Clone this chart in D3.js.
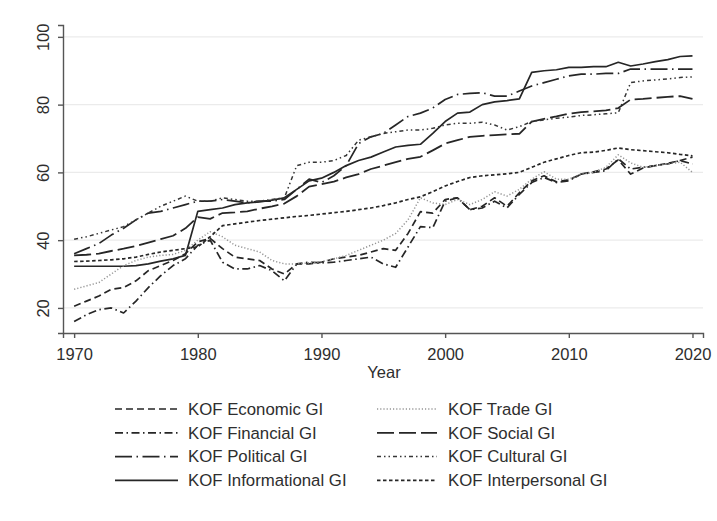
<!DOCTYPE html>
<html lang="en">
<head>
  <meta charset="UTF-8">
  <title>KOF Globalisation Indices</title>
  <script src="https://d3js.org/d3.v7.min.js"></script>
  <style>
    body, html { margin: 0; background: #fff; }
    svg { display: block; font-family: "Liberation Sans", Arial, sans-serif; }
  </style>
</head>
<body>
  <svg width="717" height="521"></svg>
  <script>
    // years on the x axis
    const years = d3.range(1970, 2021);
    const xTicks = [1970, 1980, 1990, 2000, 2010, 2020];
    const yTicks = [20, 40, 60, 80, 100];

    // values, one per year 1970..2020
    const economic = [20.5, 22, 23.5, 25.5, 26, 28, 31, 32.5, 34, 36, 39.5, 40.5, 37.5, 35, 34.5, 34, 31.5, 30, 33, 33,
      33.5, 34.5, 35, 35.5, 36.5, 37.5, 37, 42, 48.4, 48, 52, 52.5, 49, 50, 52.5, 50, 54, 57.5, 59, 57.2,
      57.8, 59.5, 60.2, 61, 63.7, 59.5, 61.3, 62, 62.7, 63.5, 64.5];
    const financial = [16, 18, 19.5, 20, 18.5, 22, 26, 29.5, 32.5, 34.5, 38.5, 40, 33.5, 31.5, 31.5, 32.5, 31, 28, 33, 33.5,
      33.3, 33.5, 34, 34.5, 35, 33, 32, 38, 44, 43.7, 51.5, 52.5, 49, 49.5, 51.5, 49.5, 53.5, 57, 58.5, 57,
      57.5, 59.5, 60, 60.5, 64, 61, 61.5, 62, 62.5, 63.5, 62.5];
    const political = [36, 37.5, 39, 41.5, 43.5, 46, 48, 48.5, 49.5, 50.5, 51.5, 51.5, 52, 51.5, 51, 51.5, 51.5, 52, 55, 58,
      57, 59, 62, 68.5, 70.5, 71.5, 74, 76.5, 77.5, 79, 81.5, 83, 83.3, 83.5, 82.5, 82.5, 84, 85.5, 86.5, 87.5,
      88.5, 89, 89, 89.2, 89.2, 90.5, 90.5, 90.5, 90.5, 90.5, 90.5];
    const informational = [32.3, 32.3, 32.3, 32.3, 32.3, 32.5, 33, 33.8, 34.5, 35.5, 48.5, 49, 49.5, 50.5, 51, 51.3, 51.8, 52.5, 55, 57.5,
      58.3, 60, 62, 63.5, 64.5, 66, 67.5, 68, 68.3, 71.5, 75, 77.5, 77.8, 80, 80.8, 81.2, 81.7, 89.5, 90, 90.3,
      91, 91, 91.2, 91.2, 92.5, 91.4, 92, 92.7, 93.3, 94.2, 94.4];
    const trade = [25.5, 26.5, 27.5, 30, 32.5, 34, 35, 35.5, 35.8, 37, 40, 42.5, 41, 38.5, 37.5, 36.5, 34, 33, 33, 33.3,
      33.6, 34.5, 35.5, 37, 38.5, 40, 42, 46, 52.5, 51, 50.5, 52, 50.5, 52, 54.3, 53, 55, 58, 60.2, 58,
      58, 59.5, 60, 61.5, 65.2, 62.8, 61.5, 62, 62.5, 63, 60];
    const social = [35.5, 35.7, 36, 36.8, 37.5, 38.3, 39.3, 40.3, 41.3, 43.5, 46.8, 46.3, 48, 48.2, 48.5, 49.3, 50, 50.8, 53, 55.8,
      56.5, 57.3, 58.5, 59.5, 61, 62, 63, 64, 64.6, 66.5, 68.5, 69.5, 70.5, 70.8, 71, 71.2, 71.4, 75, 75.8, 76.5,
      77.3, 77.8, 78, 78.3, 79, 81.5, 81.7, 82, 82.3, 82.5, 81.7];
    const cultural = [40.3, 41, 42, 43, 44, 46, 48, 50, 51.5, 53, 51.5, 51.5, 52.5, 52, 51.5, 51.5, 52, 52.5, 62, 63,
      63, 63.5, 65, 69.5, 70.5, 71.5, 72, 72.5, 72.5, 73, 74, 74.5, 74.5, 74.8, 74, 72.5, 73.5, 75, 75.5, 76,
      76.3, 76.8, 77, 77.3, 77.6, 86.5, 87, 87.3, 87.6, 88, 88.2];
    const interpersonal = [33.7, 33.8, 34, 34.2, 34.5, 35, 35.8, 36.5, 37, 37.5, 38, 41, 44.3, 44.8, 45.3, 45.8, 46.2, 46.6, 47, 47.3,
      47.7, 48.1, 48.5, 49, 49.5, 50.2, 51, 52, 52.8, 54.3, 56, 57.3, 58.5, 59, 59.3, 59.6, 60, 61.5, 63, 64,
      65, 65.8, 66, 66.5, 67.2, 66.7, 66.4, 66.1, 65.8, 65.3, 64.9];

    const series = [
      { name: "KOF Economic GI", values: economic, dash: "7,4", color: "#262626", w: 1.7 },
      { name: "KOF Financial GI", values: financial, dash: "8,3.5,1.5,3.5", color: "#262626", w: 1.7 },
      { name: "KOF Political GI", values: political, dash: "17,4.5,1.5,4.5", color: "#262626", w: 1.7 },
      { name: "KOF Informational GI", values: informational, dash: null, color: "#262626", w: 1.7 },
      { name: "KOF Trade GI", values: trade, dash: "1.2,2", color: "#959595", w: 1.5 },
      { name: "KOF Social GI", values: social, dash: "17,5", color: "#262626", w: 1.8 },
      { name: "KOF Cultural GI", values: cultural, dash: "4,3,1.5,3,1.5,3", color: "#363636", w: 1.5 },
      { name: "KOF Interpersonal GI", values: interpersonal, dash: "3.5,2.5", color: "#262626", w: 1.7 }
    ];

    const svg = d3.select("svg");

    const x = d3.scaleLinear().domain([1969.1, 2020.85]).range([63, 703]);
    const y = d3.scaleLinear().domain([12.6, 103.5]).range([333, 25]);

    // grid
    svg.append("g")
      .selectAll("line")
      .data(yTicks)
      .join("line")
      .attr("x1", x.range()[0]).attr("x2", x.range()[1])
      .attr("y1", d => y(d)).attr("y2", d => y(d))
      .attr("stroke", "#ebebeb").attr("stroke-width", 1.3);

    // lines
    const line = d3.line()
      .x((d, i) => x(years[i]))
      .y(d => y(d));

    svg.append("g")
      .selectAll("path")
      .data(series)
      .join("path")
      .attr("d", d => line(d.values))
      .attr("fill", "none")
      .attr("stroke", d => d.color)
      .attr("stroke-width", d => d.w)
      .attr("stroke-dasharray", d => d.dash)
      .attr("stroke-linejoin", "round");

    // axes
    const xAxis = svg.append("g")
      .attr("transform", `translate(0,${y.range()[0]})`)
      .call(d3.axisBottom(x).tickValues(xTicks).tickFormat(d3.format("d")).tickSizeOuter(0).tickSize(5).tickPadding(10));

    const yAxis = svg.append("g")
      .attr("transform", `translate(${x.range()[0]},0)`)
      .call(d3.axisLeft(y).tickValues(yTicks).tickSizeOuter(0).tickSize(5));

    yAxis.selectAll("text")
      .attr("x", 0).attr("dy", "0.35em")
      .attr("transform", "translate(-20,0) rotate(-90)")
      .attr("text-anchor", "middle");

    [xAxis, yAxis].forEach(g => {
      g.select(".domain").attr("stroke", "#555").attr("stroke-width", 1.4);
      g.selectAll(".tick line").attr("stroke", "#555").attr("stroke-width", 1.4);
      g.selectAll("text").attr("fill", "#2e2e2e").style("font-size", "16.5px")
        .style("font-family", "'Liberation Sans', Arial, sans-serif");
    });

    svg.append("text")
      .attr("x", 384).attr("y", 378)
      .attr("text-anchor", "middle")
      .attr("fill", "#2e2e2e")
      .style("font-size", "16.5px")
      .text("Year");

    // legend, two columns
    const legend = svg.append("g")
      .selectAll("g")
      .data(series)
      .join("g")
      .attr("transform", (d, i) => {
        const col = i < 4 ? 0 : 1;
        const row = i % 4;
        return `translate(${col ? 377 : 115},${409 + row * 23.8})`;
      });

    legend.append("line")
      .attr("x1", 0).attr("x2", (d, i) => i < 4 ? 63 : 60)
      .attr("y1", 0).attr("y2", 0)
      .attr("stroke", d => d.color)
      .attr("stroke-width", d => d.w)
      .attr("stroke-dasharray", d => d.dash);

    legend.append("text")
      .attr("x", (d, i) => i < 4 ? 73 : 71)
      .attr("y", 0)
      .attr("dy", "0.35em")
      .attr("fill", "#2e2e2e")
      .style("font-size", "16.8px")
      .text(d => d.name);
  </script>
</body>
</html>
